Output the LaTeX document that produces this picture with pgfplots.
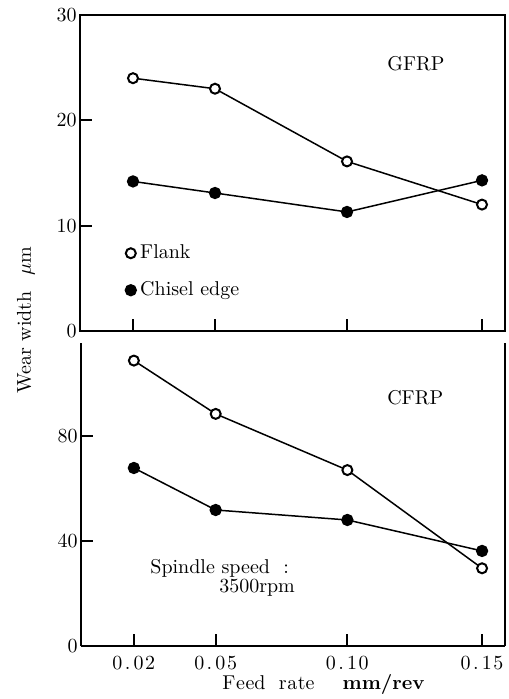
\documentclass[border=0pt]{standalone}
\usepackage{pgfplots}
\pgfplotsset{compat=1.18}
% spaced-out tick numbers for the feed rate axis
\newcommand{\spnum}[3]{#1\kern1.2pt.\kern1.6pt#2\kern0.8pt#3}
\begin{document}
\begin{tikzpicture}
\path[use as bounding box] (0,0) rectangle (254pt,349.5pt);
\pgfplotsset{
  panel/.style={
    scale only axis, width=212.5pt, xmin=0, xmax=425,
    xtick={53,135,267,402},
    axis line style={line width=1.1pt},
    major tick style={line width=1.1pt, black},
    major tick length=6pt,
    tick align=inside, xtick pos=bottom, ytick pos=left,
    yticklabel style={inner sep=1.5pt},
    every axis plot/.append style={black, line width=0.75pt},
  },
  flank/.style={mark=*, mark size=2.5pt, mark options={fill=white, draw=black, line width=1pt}},
  chisel/.style={mark=*, mark size=2.7pt, mark options={fill=black, draw=black}},
}
% GFRP panel
\begin{axis}[panel, at={(40pt,184pt)}, anchor=south west,
  height=158pt, ymin=0, ymax=30, ytick={0,10,20,30},
  xticklabels={},
  legend image code/.code={\draw[#1] plot coordinates {(0pt,0pt)};},
  legend style={draw=none, fill=none, at={(axis cs:45,8.6)}, anchor=north west,
    inner sep=0pt, row sep=6pt, nodes={inner sep=2pt}},
  legend cell align=left]
\addplot[flank] coordinates {(53,24.0) (135,23.0) (267,16.1) (402,12.0)};
\addplot[chisel] coordinates {(53,14.2) (135,13.1) (267,11.3) (402,14.3)};
\legend{Flank, Chisel edge}
\node at (axis cs:336,25.4) {GFRP};
\end{axis}
% CFRP panel
\begin{axis}[panel, at={(40.5pt,26.5pt)}, anchor=south west,
  width=212pt, height=151.5pt, ymin=0, ymax=115.4, ytick={0,40,80},
  axis x line*=bottom, axis y line*=box, xtick pos=bottom, ytick pos=left,
  xticklabels={\spnum{0}{0}{2},\spnum{0}{0}{5},\spnum{0}{1}{0},\spnum{0}{1}{5}},
  xticklabel style={yshift=-1.5pt},
  xlabel={F\kern0.3pt e\kern0.3pt ed\ \ r\kern0.3pt a\kern0.3pt te\hspace{1.4em}\textbf{mm/rev}},
  xlabel style={at={(axis description cs:0.572,0)}, anchor=center, yshift=-19pt, inner sep=1pt}]
\addplot[flank] coordinates {(53,108.7) (135,88.4) (267,67.0) (402,29.6)};
\addplot[chisel] coordinates {(53,67.8) (135,51.8) (267,48.0) (402,36.2)};
\node at (axis cs:335,94.5) {CFRP};
\node at (axis cs:139,29.7) {Spindle\ speed\ \ :};
\node at (axis cs:176.5,22.1) {3500rpm};
\end{axis}
\node[rotate=90] at (13pt,189.5pt) {Wear width\hspace{0.8em}$\mu$m};
\end{tikzpicture}
\end{document}
